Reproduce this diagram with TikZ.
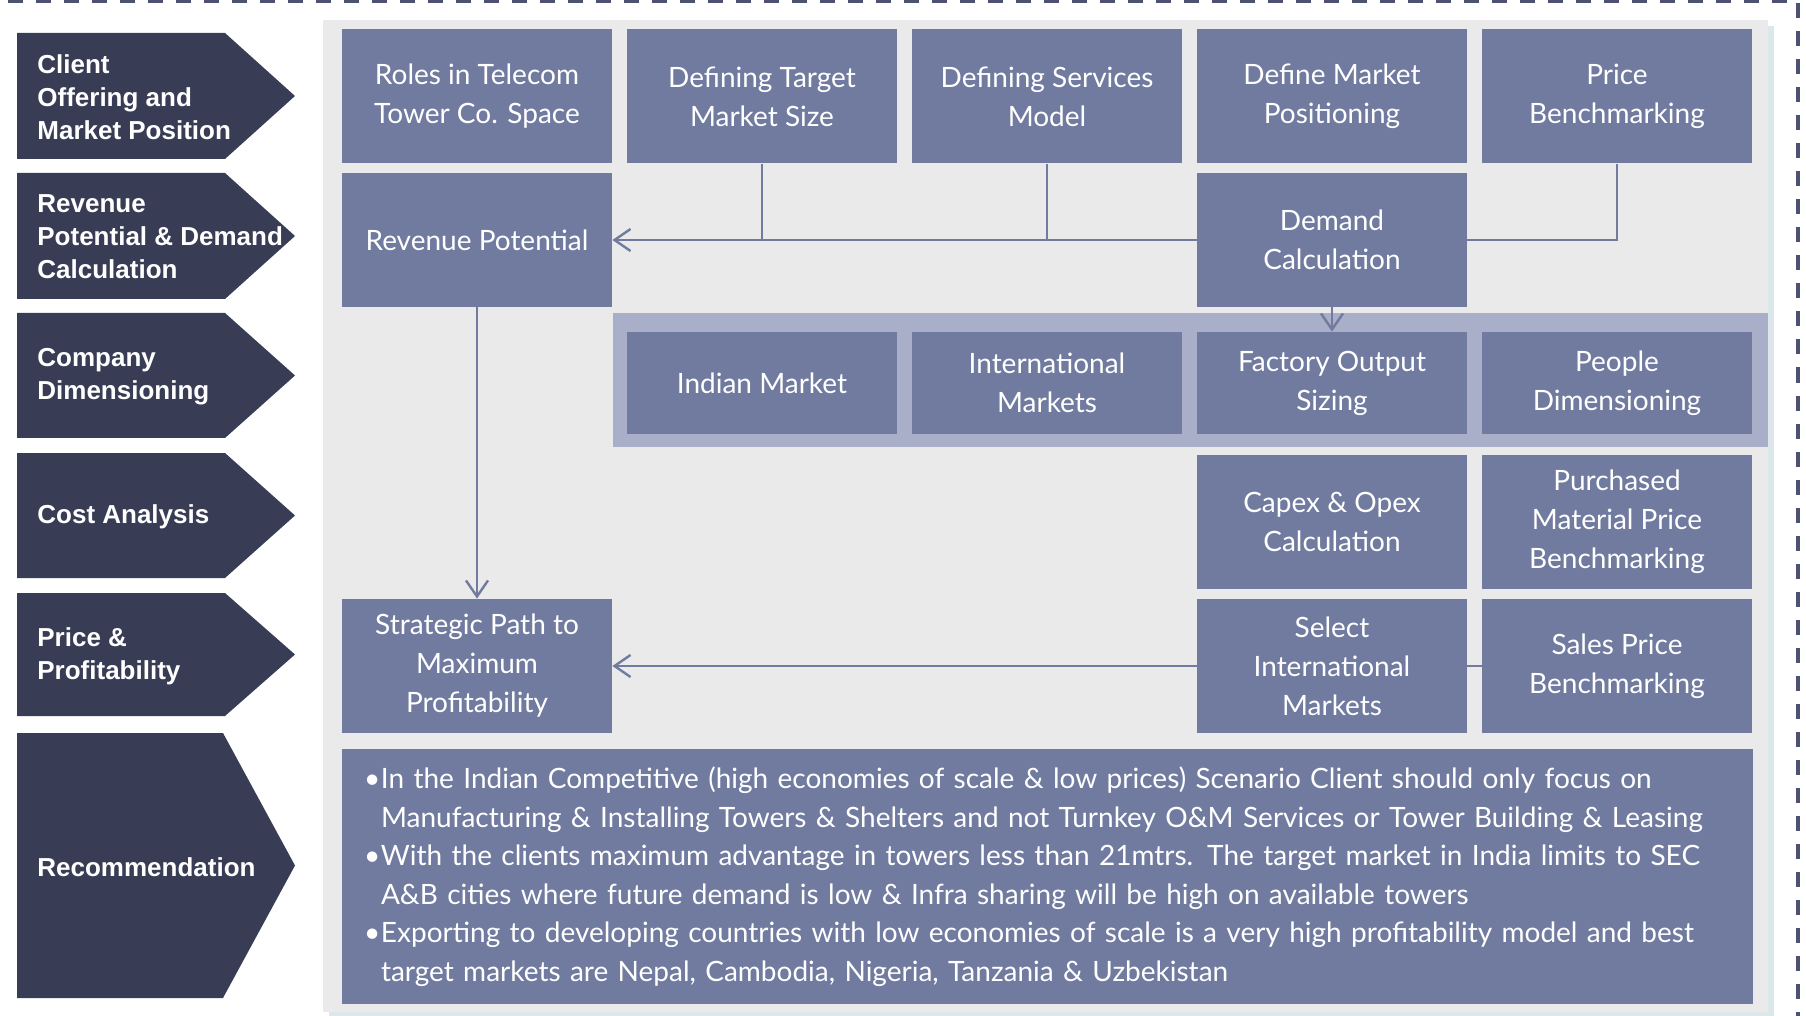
\documentclass[tikz,border=0pt]{standalone}
\usepackage{fontspec}
\usepackage{tikz}
\usetikzlibrary{arrows.meta}
\newfontfamily\boxfont{Lato}
\newfontfamily\chevfont{Liberation Sans}
\definecolor{panelgray}{HTML}{EAEAEA}
\definecolor{shadeblue}{HTML}{DCE7EC}
\definecolor{bandblue}{HTML}{A9AFC8}
\definecolor{tileblue}{HTML}{717BA0}
\definecolor{navy}{HTML}{383D55}
\definecolor{framegray}{HTML}{4E5272}
\pgfdeclarelayer{back}
\pgfdeclarelayer{mid}
\pgfsetlayers{back,mid,main}
\tikzset{
  tile/.style={fill=tileblue, text=white, inner sep=0pt, minimum width=135pt, minimum height=67pt,
    align=center, font=\boxfont\fontsize{14}{19.5}\selectfont},
  slimtile/.style={tile, minimum height=51pt},
  chev/.style={fill=navy},
  chevlab/.style={anchor=west, text=white, align=left, inner sep=0pt,
    font=\chevfont\bfseries\fontsize{13}{16.5}\selectfont},
  wire/.style={draw=tileblue, line width=1.2pt},
  arrowwire/.style={wire, -{Straight Barb[length=8pt,width=11pt]}},
  frameline/.style={draw=framegray, line width=2pt, dash pattern=on 7.5pt off 6.5pt},
}
\begin{document}
\begin{tikzpicture}[x=0.5pt, y=-0.5pt]
  \useasboundingbox (0,0) rectangle (1806,1016);

  \begin{pgfonlayer}{back}
    \fill[shadeblue] (329,26) rectangle (1774,1018);
    \fill[panelgray] (323,20) rectangle (1768,1012);
    \fill[bandblue] (613,313) rectangle (1768,447);
  \end{pgfonlayer}
  \draw[frameline] (-20,1.5) -- (1798,1.5) -- (1798,1040);

  % steps on the left
  \fill[chev] (17,33) -- (225,33) -- (295,96) -- (225,159) -- (17,159) -- cycle;
  \node[chevlab] (client) at (37,97) {Client\\Offering and\\Market Position};
  \fill[chev] (17,173) -- (225,173) -- (295,236) -- (225,299) -- (17,299) -- cycle;
  \node[chevlab] (revdemand) at (37,237) {Revenue\\Potential \& Demand\\Calculation};
  \fill[chev] (17,313) -- (225,313) -- (295,375.5) -- (225,438) -- (17,438) -- cycle;
  \node[chevlab] (company) at (37,377) {Company\\Dimensioning};
  \fill[chev] (17,453) -- (225,453) -- (295,515.5) -- (225,578) -- (17,578) -- cycle;
  \node[chevlab] (cost) at (37,517) {Cost Analysis};
  \fill[chev] (17,593) -- (225,593) -- (295,654.5) -- (225,716) -- (17,716) -- cycle;
  \node[chevlab] (profit) at (37,656) {Price \&\\Profitability};
  \fill[chev] (17,733) -- (223,733) -- (295,865.5) -- (223,998) -- (17,998) -- cycle;
  \node[chevlab] (recolab) at (37,867) {Recommendation};

  % boxes
  \node[tile] (roles) at (477,96.5) {Roles in Telecom\\Tower Co. Space};
  \node[tile] (target) at (762,96.5) {Defining Target\\Market Size};
  \node[tile] (services) at (1047,96.5) {Defining Services\\Model};
  \node[tile] (position) at (1332,96.5) {Define Market\\Positioning};
  \node[tile] (price) at (1617,96.5) {Price\\Benchmarking};

  \node[tile] (revenue) at (477,240) {Revenue Potential};
  \node[tile] (demand) at (1332,240) {Demand\\Calculation};

  \node[slimtile] (indian) at (762,383) {Indian Market};
  \node[slimtile] (intl) at (1047,383) {International\\Markets};
  \node[slimtile] (factory) at (1332,383) {Factory Output\\Sizing};
  \node[slimtile] (people) at (1617,383) {People\\Dimensioning};

  \node[tile] (capex) at (1332,522) {Capex \& Opex\\Calculation};
  \node[tile] (purchased) at (1617,522) {Purchased\\Material Price\\Benchmarking};

  \node[tile] (strategic) at (477,666) {Strategic Path to\\Maximum\\Profitability};
  \node[tile] (select) at (1332,666) {Select\\International\\Markets};
  \node[tile] (sales) at (1617,666) {Sales Price\\Benchmarking};

  \node[tile, minimum width=705.5pt, minimum height=127.5pt, text width=683.5pt, inner xsep=11pt,
    align=left, font=\boxfont\fontsize{14}{19.25}\selectfont] (reco) at (1047.5,876.5)
    {\makebox[8.5pt][l]{\textbullet}In the Indian Competitive (high economies of scale \& low prices) Scenario Client should only focus on\\
     \hspace*{8.5pt}Manufacturing \& Installing Towers \& Shelters and not Turnkey O\&M Services or Tower Building \& Leasing\\
     \makebox[8.5pt][l]{\textbullet}With the clients maximum advantage in towers less than 21mtrs. The target market in India limits to SEC\\
     \hspace*{8.5pt}A\&B cities where future demand is low \& Infra sharing will be high on available towers\\
     \makebox[8.5pt][l]{\textbullet}Exporting to developing countries with low economies of scale is a very high profitability model and best\\
     \hspace*{8.5pt}target markets are Nepal, Cambodia, Nigeria, Tanzania \& Uzbekistan};

  \begin{pgfonlayer}{mid}
    \draw[arrowwire] (price.south) |- (revenue.east);
    \draw[wire] (target.south) -- (target.south |- revenue.east);
    \draw[wire] (services.south) -- (services.south |- revenue.east);
    \draw[arrowwire] (demand.south) -- (factory.north);
    \draw[arrowwire] (revenue.south) -- (strategic.north);
    \draw[arrowwire] (sales.west) -- (strategic.east);
  \end{pgfonlayer}
\end{tikzpicture}
\end{document}
